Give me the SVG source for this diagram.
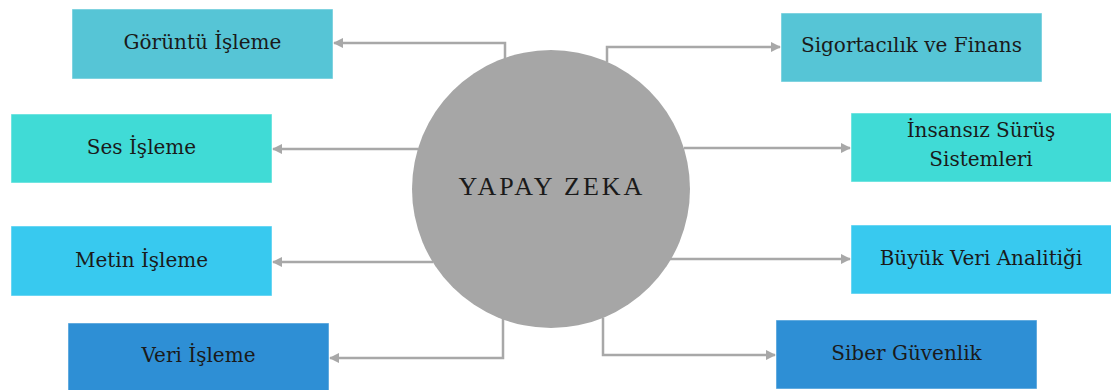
<svg xmlns="http://www.w3.org/2000/svg" width="1111" height="390" viewBox="0 0 1111 390">
<style>
.lbl{font-family:"DejaVu Serif","Liberation Serif",serif;font-size:20px;fill:#1a1a1a;text-anchor:middle}
.box{stroke:#ffffff;stroke-opacity:0.5;stroke-width:1}
.c1{fill:#56c5d6}.c2{fill:#40dbd6}.c3{fill:#38c9ef}.c4{fill:#2e8fd5}
.con{fill:none;stroke:#a8a8a8;stroke-width:2.5}
</style>
<defs>
<marker id="ah" viewBox="0 0 10 10" refX="9" refY="5" markerWidth="4.2" markerHeight="4.2" orient="auto" markerUnits="strokeWidth">
<path d="M0,0 L10,5 L0,10 z" fill="#a8a8a8"/>
</marker>
</defs>
<g id="connectors">
<path class="con" d="M505,60 V43 H334" marker-end="url(#ah)"/>
<path class="con" d="M418,149 H273" marker-end="url(#ah)"/>
<path class="con" d="M433,262 H273" marker-end="url(#ah)"/>
<path class="con" d="M503,318 V358 H330" marker-end="url(#ah)"/>
<path class="con" d="M607,62 V47 H780" marker-end="url(#ah)"/>
<path class="con" d="M684,148 H850" marker-end="url(#ah)"/>
<path class="con" d="M670,259 H850" marker-end="url(#ah)"/>
<path class="con" d="M603,318 V355 H775" marker-end="url(#ah)"/>
</g>
<g id="center">
<circle cx="551" cy="189" r="139" fill="#a6a6a6"/>
<text x="552" y="195" font-family="Liberation Serif, serif" font-size="26" letter-spacing="3" fill="#1a1a1a" text-anchor="middle">YAPAY ZEKA</text>
</g>
<g id="goruntu"><rect class="box c1" x="72" y="9" width="261" height="70"/><text class="lbl" x="202.5" y="49">Görüntü İşleme</text></g>
<g id="ses"><rect class="box c2" x="11" y="114" width="261" height="69"/><text class="lbl" x="141.5" y="154">Ses İşleme</text></g>
<g id="metin"><rect class="box c3" x="11" y="226" width="261" height="70"/><text class="lbl" x="141.5" y="267">Metin İşleme</text></g>
<g id="veri"><rect class="box c4" x="68" y="323" width="261" height="68"/><text class="lbl" x="198.5" y="362">Veri İşleme</text></g>
<g id="sigorta"><rect class="box c1" x="781" y="13" width="261" height="69"/><text class="lbl" x="911.5" y="52">Sigortacılık ve Finans</text></g>
<g id="insansiz"><rect class="box c2" x="851" y="113" width="261" height="69"/><text class="lbl" x="981" y="137">İnsansız Sürüş</text><text class="lbl" x="981" y="166">Sistemleri</text></g>
<g id="buyuk"><rect class="box c3" x="851" y="225" width="261" height="69"/><text class="lbl" x="981" y="265">Büyük Veri Analitiği</text></g>
<g id="siber"><rect class="box c4" x="776" y="320" width="261" height="69"/><text class="lbl" x="906.5" y="360">Siber Güvenlik</text></g>
</svg>
